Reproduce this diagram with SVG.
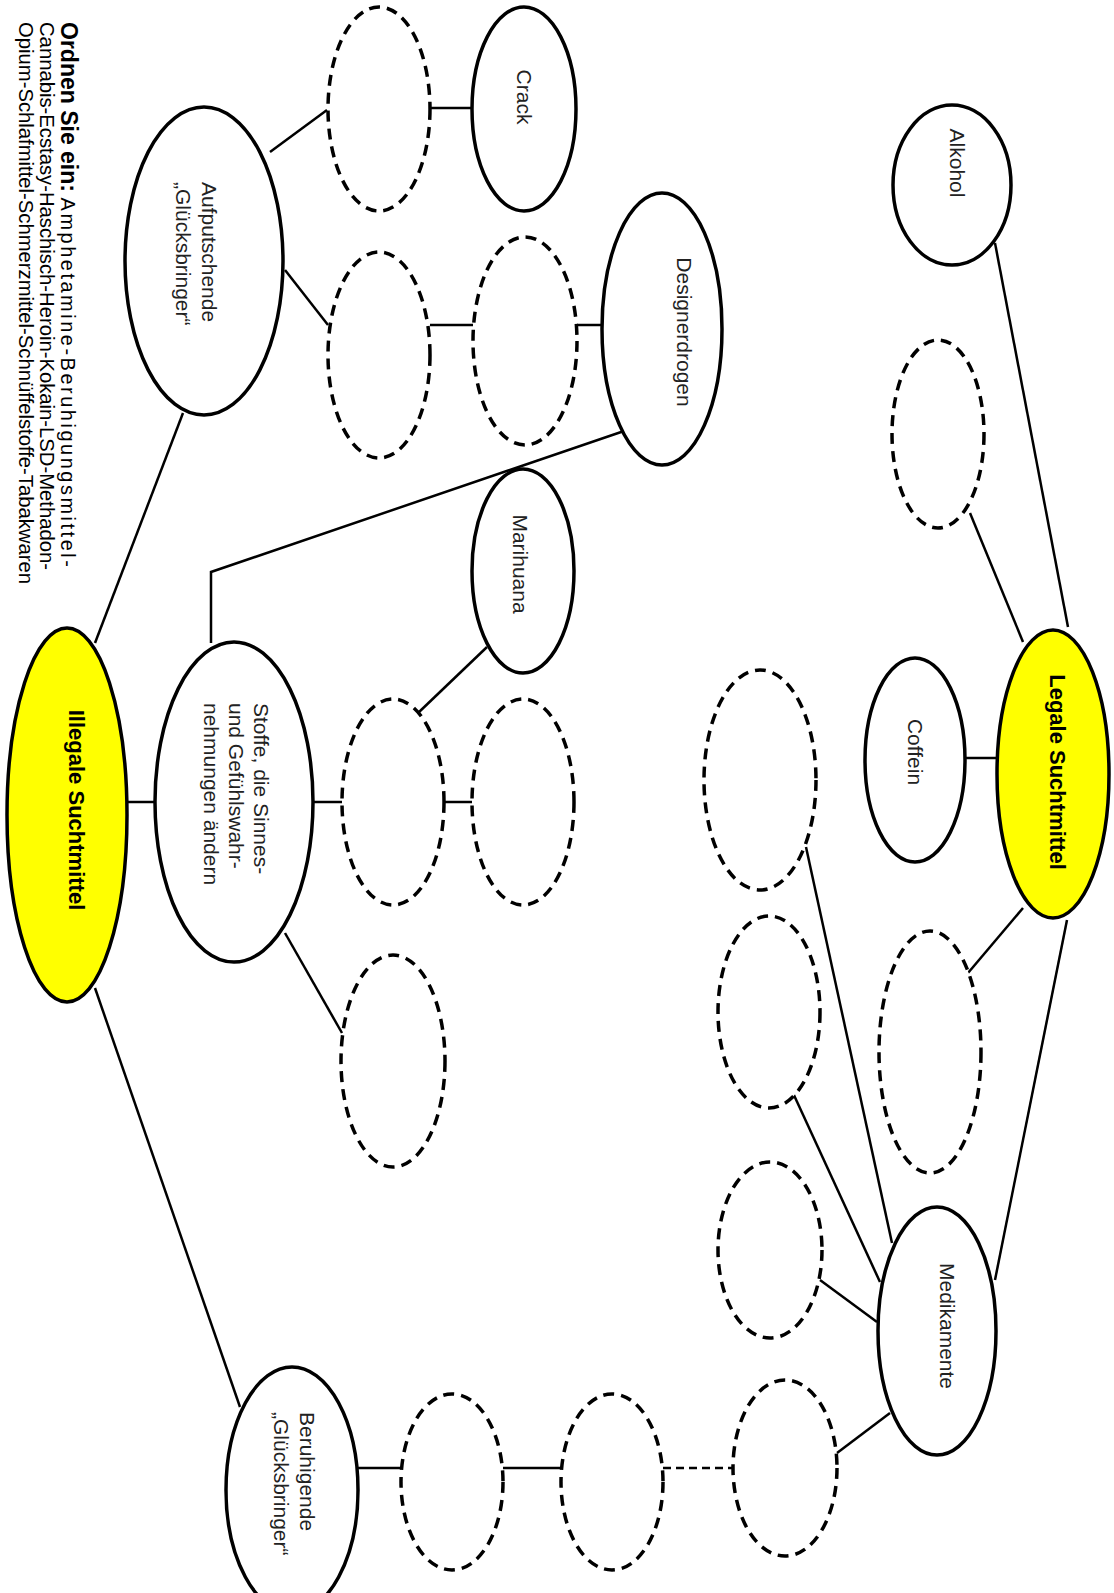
<svg xmlns="http://www.w3.org/2000/svg" width="1114" height="1593" viewBox="0 0 1114 1593">
<style>
.solid{fill:#fff;stroke:#000;stroke-width:3.5}
.key{fill:#ffff00;stroke:#000;stroke-width:3.5}
.dash{fill:#fff;stroke:#000;stroke-width:3.5;stroke-dasharray:11 7}
.conn line,.conn polyline{stroke:#000;stroke-width:2.5;fill:none}
.conn .dl{stroke-dasharray:8 5}
text{font-family:"Liberation Sans",Arial,sans-serif;fill:#222}
.lbl{font-size:21px}
.klbl{font-size:22px;font-weight:bold;fill:#000}
.title{font-size:20px;fill:#000}
.tb{font-size:23px;font-weight:bold}
.tr{letter-spacing:2.5px}
</style>
<rect width="1114" height="1593" fill="#fff"/>
<g id="title">
<text class="title" transform="translate(61,22) rotate(90)"><tspan class="tb">Ordnen Sie ein:</tspan> <tspan class="tr">Amphetamine-Beruhigungsmittel-</tspan></text>
<text class="title" transform="translate(40,22) rotate(90)" textLength="548" lengthAdjust="spacingAndGlyphs">Cannabis-Ecstasy-Haschisch-Heroin-Kokain-LSD-Methadon-</text>
<text class="title" transform="translate(19,22) rotate(90)" textLength="562" lengthAdjust="spacingAndGlyphs">Opium-Schlafmittel-Schmerzmittel-Schnüffelstoffe-Tabakwaren</text>
</g>
<g id="connectors" class="conn">
<line x1="127" y1="802" x2="155" y2="802"/>
<line x1="95" y1="643" x2="183" y2="413"/>
<line x1="95" y1="988" x2="240" y2="1407"/>
<line x1="270" y1="152" x2="327" y2="110"/>
<line x1="285" y1="270" x2="328" y2="325"/>
<line x1="430" y1="108" x2="472" y2="108"/>
<line x1="430" y1="325" x2="473" y2="325"/>
<line x1="577" y1="325" x2="603" y2="325"/>
<polyline points="627,430 211,572 211,643"/>
<line x1="313" y1="802" x2="342" y2="802"/>
<line x1="445" y1="802" x2="472" y2="802"/>
<line x1="418" y1="713" x2="487" y2="647"/>
<line x1="285" y1="933" x2="342" y2="1033"/>
<line x1="358" y1="1468" x2="401" y2="1468"/>
<line x1="503" y1="1468" x2="561" y2="1468"/>
<line class="dl" x1="663" y1="1468" x2="733" y2="1468"/>
<line x1="837" y1="1453" x2="890" y2="1413"/>
<line x1="820" y1="1280" x2="877" y2="1322"/>
<line x1="793" y1="1093" x2="880" y2="1282"/>
<line x1="806" y1="847" x2="892" y2="1243"/>
<line x1="1067" y1="920" x2="995" y2="1280"/>
<line x1="1023" y1="908" x2="968" y2="973"/>
<line x1="965" y1="758" x2="997" y2="758"/>
<line x1="970" y1="513" x2="1023" y2="642"/>
<line x1="995" y1="243" x2="1068" y2="627"/>
</g>
<g id="illegale"><ellipse class="key" cx="67" cy="815" rx="60" ry="187"/><text class="klbl" text-anchor="middle" transform="translate(69,810) rotate(90)">Illegale Suchtmittel</text></g>
<g id="aufputschende"><ellipse class="solid" cx="204" cy="261" rx="79" ry="154"/><text class="lbl" transform="translate(202,182) rotate(90)"><tspan x="0" y="0">Aufputschende</tspan><tspan x="0" dy="26">„Glücksbringer“</tspan></text></g>
<g id="d1"><ellipse class="dash" cx="379" cy="109" rx="51" ry="102"/></g>
<g id="d2"><ellipse class="dash" cx="379" cy="355" rx="51" ry="103"/></g>
<g id="crack"><ellipse class="solid" cx="524" cy="109" rx="52" ry="102"/><text class="lbl" text-anchor="middle" transform="translate(517,97) rotate(90)">Crack</text></g>
<g id="d3"><ellipse class="dash" cx="525" cy="341" rx="52" ry="104"/></g>
<g id="designerdrogen"><ellipse class="solid" cx="662" cy="329" rx="60" ry="136"/><text class="lbl" text-anchor="middle" transform="translate(677,332) rotate(90)">Designerdrogen</text></g>
<g id="marihuana"><ellipse class="solid" cx="523" cy="571" rx="51" ry="102"/><text class="lbl" text-anchor="middle" transform="translate(513,564) rotate(90)">Marihuana</text></g>
<g id="stoffe"><ellipse class="solid" cx="234" cy="802" rx="79" ry="160"/><text class="lbl" transform="translate(254,703) rotate(90)"><tspan x="0" y="0">Stoffe, die Sinnes-</tspan><tspan x="0" dy="25">und Gefühlswahr-</tspan><tspan x="0" dy="25">nehmungen ändern</tspan></text></g>
<g id="d4"><ellipse class="dash" cx="393" cy="802" rx="51" ry="103"/></g>
<g id="d5"><ellipse class="dash" cx="523" cy="802" rx="51" ry="103"/></g>
<g id="d6"><ellipse class="dash" cx="393" cy="1061" rx="52" ry="106"/></g>
<g id="beruhigende"><ellipse class="solid" cx="292" cy="1490" rx="66" ry="123"/><text class="lbl" transform="translate(300,1412) rotate(90)"><tspan x="0" y="0">Beruhigende</tspan><tspan x="0" dy="26">„Glücksbringer“</tspan></text></g>
<g id="d7"><ellipse class="dash" cx="452" cy="1482" rx="51" ry="88"/></g>
<g id="d8"><ellipse class="dash" cx="612" cy="1482" rx="51" ry="88"/></g>
<g id="d9"><ellipse class="dash" cx="785" cy="1468" rx="52" ry="88"/></g>
<g id="d10"><ellipse class="dash" cx="770" cy="1250" rx="52" ry="88"/></g>
<g id="medikamente"><ellipse class="solid" cx="937" cy="1331" rx="59" ry="124"/><text class="lbl" text-anchor="middle" transform="translate(940,1326) rotate(90)">Medikamente</text></g>
<g id="d11"><ellipse class="dash" cx="760" cy="780" rx="56" ry="110"/></g>
<g id="d12"><ellipse class="dash" cx="769" cy="1012" rx="51" ry="96"/></g>
<g id="d13"><ellipse class="dash" cx="930" cy="1052" rx="51" ry="121"/></g>
<g id="coffein"><ellipse class="solid" cx="915" cy="760" rx="50" ry="102"/><text class="lbl" text-anchor="middle" transform="translate(908,752) rotate(90)">Coffein</text></g>
<g id="legale"><ellipse class="key" cx="1053" cy="774" rx="56" ry="144"/><text class="klbl" text-anchor="middle" transform="translate(1050,772) rotate(90)">Legale Suchtmittel</text></g>
<g id="d14"><ellipse class="dash" cx="938" cy="434" rx="46" ry="94"/></g>
<g id="alkohol"><ellipse class="solid" cx="952" cy="185" rx="59" ry="80"/><text class="lbl" text-anchor="middle" transform="translate(950,163) rotate(90)">Alkohol</text></g>
</svg>
